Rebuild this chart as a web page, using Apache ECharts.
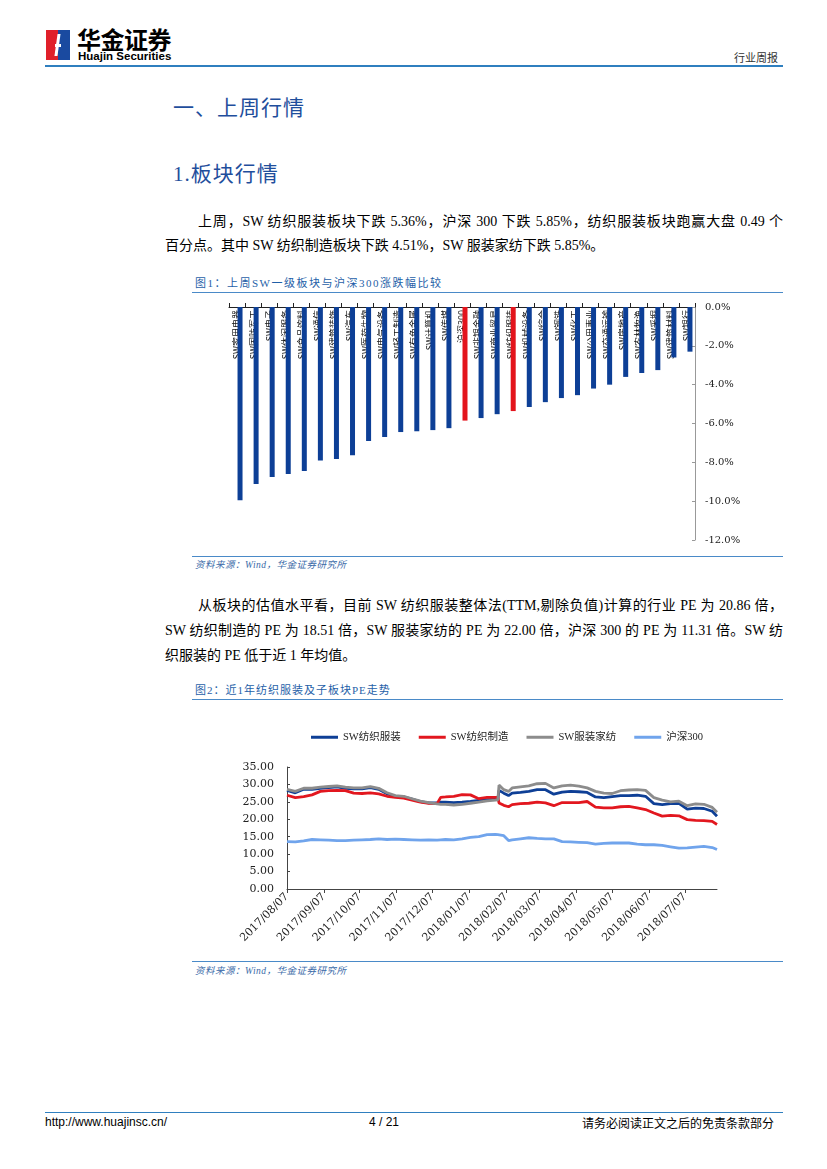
<!DOCTYPE html>
<html>
<head>
<meta charset="utf-8">
<script src="https://cdn.jsdelivr.net/npm/echarts@6/dist/echarts.min.js"></script>
<style>
  html, body { margin: 0; padding: 0; background: #fff; }
  body { width: 827px; height: 1169px; position: relative; overflow: hidden;
         font-family: "Liberation Serif", "Noto Sans CJK SC", serif; color: #000; }
  .abs { position: absolute; white-space: nowrap; }
  .line { position: absolute; height: 0; }
  .para div { height: 24px; line-height: 24px; font-size: 14px; text-align: justify; text-align-last: justify; }
  .para div.last { text-align-last: left; }
  .figtitle { font-size: 11px; color: #1f5fa8; letter-spacing: 1.5px; font-family: "Liberation Serif","Noto Sans CJK SC",serif; }
  .src { font-size: 9.5px; color: #3a6aa8; font-style: italic; letter-spacing: 0.5px; }
  .heading { font-size: 21px; color: #1f4e9c; font-family: "Liberation Serif","Noto Sans CJK SC",serif; letter-spacing: 1px; }
</style>
</head>
<body>
<!-- header logo -->
<div class="abs" style="left:46px;top:30px;width:12px;height:30px;background:#e0202a;"></div>
<div class="abs" style="left:58px;top:30px;width:12px;height:30px;background:#1a4aa0;"></div>
<div class="abs" style="left:56px;top:34px;width:3px;height:22px;background:#fff;transform:skewX(-8deg);"></div>
<div class="abs" style="left:55px;top:44px;width:6px;height:3px;background:#fff;"></div>
<div class="abs" style="left:77px;top:25px;font-size:24px;font-weight:bold;font-family:'Noto Sans CJK SC',sans-serif;letter-spacing:-0.5px;line-height:28px;">华金证券</div>
<div class="abs" style="left:78px;top:50px;font-size:11.5px;font-weight:bold;font-family:'Liberation Sans',Arial,sans-serif;line-height:13px;">Huajin Securities</div>
<div class="abs" style="left:734px;top:50px;font-size:11px;color:#333;font-family:'Noto Sans CJK SC',sans-serif;line-height:14px;">行业周报</div>
<div class="line" style="left:45px;top:65px;width:738px;border-top:2px solid #2f7fbf;"></div>

<div class="abs heading" style="left:173px;top:94px;line-height:28px;">一、上周行情</div>
<div class="abs heading" style="left:173px;top:160px;line-height:28px;">1.板块行情</div>

<div class="abs para" style="left:165px;top:210px;width:618px;">
  <div style="padding-left:33px;">上周，SW 纺织服装板块下跌 5.36%，沪深 300 下跌 5.85%，纺织服装板块跑赢大盘 0.49 个</div>
  <div class="last">百分点。其中 SW 纺织制造板块下跌 4.51%，SW 服装家纺下跌 5.85%。</div>
</div>

<div class="abs figtitle" style="left:195px;top:276px;line-height:14px;">图1：上周SW一级板块与沪深300涨跌幅比较</div>
<div class="line" style="left:192px;top:292px;width:591px;border-top:1px solid #4a8ac8;"></div>
<div id="bar" class="abs" style="left:190px;top:295px;width:593px;height:260px;"></div>
<div class="line" style="left:192px;top:556px;width:591px;border-top:1px solid #4a8ac8;"></div>
<div class="abs src" style="left:195px;top:559px;line-height:13px;">资料来源：Wind，华金证券研究所</div>

<div class="abs para" style="left:165px;top:593px;width:618px;">
  <div style="padding-left:33px;height:25px;line-height:25px;">从板块的估值水平看，目前 SW 纺织服装整体法(TTM,剔除负值)计算的行业 PE 为 20.86 倍，</div>
  <div style="height:25px;line-height:25px;">SW 纺织制造的 PE 为 18.51 倍，SW 服装家纺的 PE 为 22.00 倍，沪深 300 的 PE 为 11.31 倍。SW 纺</div>
  <div class="last" style="height:25px;line-height:25px;">织服装的 PE 低于近 1 年均值。</div>
</div>

<div class="abs figtitle" style="left:195px;top:683px;line-height:14px;letter-spacing:1px;">图2：近1年纺织服装及子板块PE走势</div>
<div class="line" style="left:192px;top:699px;width:591px;border-top:1px solid #4a8ac8;"></div>
<div id="line" class="abs" style="left:190px;top:705px;width:593px;height:255px;"></div>
<div class="line" style="left:192px;top:961px;width:591px;border-top:1px solid #4a8ac8;"></div>
<div class="abs src" style="left:195px;top:965px;line-height:13px;">资料来源：Wind，华金证券研究所</div>

<!-- footer -->
<div class="line" style="left:45px;top:1112px;width:738px;border-top:1px solid #2f7fbf;"></div>
<div class="abs" style="left:45px;top:1115px;font-size:12px;font-family:'Liberation Sans',Arial,sans-serif;line-height:15px;">http://www.huajinsc.cn/</div>
<div class="abs" style="left:369px;top:1115px;font-size:12px;font-family:'Liberation Sans',Arial,sans-serif;line-height:15px;">4 / 21</div>
<div class="abs" style="left:582px;top:1115px;font-size:12px;font-family:'Noto Sans CJK SC',sans-serif;line-height:15px;">请务必阅读正文之后的免责条款部分</div>

<script>
// ---------- Figure 1 data ----------
const barCategories = ['SW家用电器','SW国防军工','SW电子','SW休闲服务','SW食品饮料','SW通信','SW建筑装饰','SW汽车','SW医药生物','SW电气设备','SW轻工制造','SW有色金属','SW计算机','SW传媒','沪深300','SW非银金融','SW商业贸易','SW纺织服装','SW机械设备','SW综合','SW钢铁','SW化工','SW公用事业','SW交通运输','SW房地产','SW农林牧渔','SW采掘','SW建筑材料','SW银行'];
const barValues = [-9.95,-9.12,-8.76,-8.6,-8.45,-7.9,-7.83,-7.63,-6.9,-6.7,-6.44,-6.4,-6.34,-6.24,-5.85,-5.72,-5.52,-5.36,-5.15,-4.9,-4.69,-4.54,-4.2,-4.0,-3.6,-3.4,-3.25,-2.6,-2.3];
const highlightCategories = ['沪深300','SW纺织服装'];

// ---------- Figure 2 data ----------
const peDates = ['2017/08/07','2017/08/14','2017/08/21','2017/08/28','2017/09/04','2017/09/11','2017/09/18','2017/09/25','2017/10/02','2017/10/09','2017/10/16','2017/10/23','2017/10/30','2017/11/06','2017/11/13','2017/11/20','2017/11/27','2017/12/04','2017/12/11','2017/12/14','2017/12/18','2017/12/25','2018/01/01','2018/01/08','2018/01/15','2018/01/22','2018/01/29','2018/01/31','2018/02/01','2018/02/05','2018/02/09','2018/02/12','2018/02/19','2018/02/26','2018/03/05','2018/03/12','2018/03/19','2018/03/26','2018/04/02','2018/04/09','2018/04/16','2018/04/23','2018/04/30','2018/05/07','2018/05/14','2018/05/21','2018/05/28','2018/06/04','2018/06/11','2018/06/18','2018/06/25','2018/07/02','2018/07/09','2018/07/16','2018/07/23','2018/07/30','2018/08/03'];
const peTextile = [28.3,27.6,28.6,28.6,28.9,29.1,29.3,28.9,28.7,28.7,29.1,28.6,27.3,26.6,26.4,25.8,25.1,24.7,24.8,24.9,24.9,24.8,24.9,25.1,25.4,25.6,25.7,25.7,28.3,27.5,26.8,27.5,27.7,28.0,28.5,28.5,27.2,27.8,28.0,27.9,27.7,26.4,26.2,26.5,26.8,26.8,26.9,26.6,24.5,24.2,24.5,24.6,22.9,23.2,23.1,22.3,20.86];
const peManufacture = [26.9,26.2,26.5,27.0,28.0,28.2,28.3,28.2,27.5,27.4,27.6,27.3,26.6,26.3,26.1,25.5,24.9,24.6,24.5,26.3,26.4,26.6,27.1,27.0,25.9,26.3,26.3,26.3,24.7,24.0,23.6,24.2,24.5,24.6,24.9,24.7,23.9,24.8,24.8,24.8,25.1,23.5,23.3,23.3,23.6,23.7,23.3,22.8,21.8,20.9,21.1,21.0,19.9,19.7,19.6,19.4,18.51];
const peApparel = [28.6,28.0,28.9,28.9,29.2,29.4,29.6,29.2,29.0,29.0,29.4,28.9,27.6,26.8,26.6,25.9,25.2,24.8,24.4,24.3,24.3,24.1,24.3,24.6,24.9,25.3,25.5,25.6,29.8,28.5,28.0,29.0,29.3,29.6,30.2,30.3,29.0,29.6,29.8,29.5,29.0,28.0,27.5,27.4,28.2,28.4,28.5,28.3,26.2,25.5,25.0,25.2,23.9,24.4,24.3,23.4,22.00];
const peHS300 = [13.6,13.5,13.8,14.2,14.1,14.0,13.9,13.9,14.0,14.1,14.2,14.4,14.2,14.3,14.2,14.1,14.0,14.1,14.0,14.1,14.2,14.1,14.4,14.8,15.0,15.6,15.7,15.6,15.6,15.3,13.9,14.1,14.4,14.7,14.5,14.4,14.4,13.6,13.5,13.4,13.3,12.9,13.1,13.2,13.2,13.2,12.9,12.7,12.7,12.5,12.1,11.7,11.8,12.0,12.2,11.9,11.31];
const peSeriesNames = ['SW纺织服装','SW纺织制造','SW服装家纺','沪深300'];
const peAxisStart = '2017/08/07';
const peAxisEnd = '2018/08/03';

// ---------- Figure 1 ----------
const BLUE = '#0d3f96', RED = '#e3141c';
const barChart = echarts.init(document.getElementById('bar'));
barChart.setOption({
  animation: false,
  grid: {left: 39, right: 88, top: 12, bottom: 15},
  xAxis: {
    type: 'category', position: 'top', data: barCategories,
    axisLine: {lineStyle: {color: '#222', width: 1}},
    axisTick: {show: true, length: 4, lineStyle: {color: '#222'}},
    axisLabel: {inside: true, rotate: 90, interval: 0, fontSize: 9, color: '#111', margin: 3,
                padding: [0, 0, 8, 0], fontFamily: 'Noto Sans CJK SC'},
    splitLine: {show: false}
  },
  yAxis: {
    type: 'value', position: 'right', min: -12, max: 0, interval: 2,
    axisLine: {show: true, lineStyle: {color: '#999'}},
    axisTick: {show: true, inside: true, length: 3, lineStyle: {color: '#999'}},
    axisLabel: {formatter: v => v.toFixed(1) + '%', fontSize: 10, color: '#222', margin: 10,
                fontFamily: 'DejaVu Serif'},
    splitLine: {show: false}
  },
  series: [
    {type: 'bar', data: barCategories.map(() => '-'), barWidth: 5, barGap: '20%', silent: true},
    {type: 'bar', barWidth: 5, barGap: '20%',
     data: barValues.map((v, i) => ({value: v, itemStyle: {color: highlightCategories.includes(barCategories[i]) ? RED : BLUE}}))}
  ]
});

// ---------- Figure 2 ----------
function fmt(d) {
  const m = String(d.getUTCMonth() + 1).padStart(2, '0');
  const dd = String(d.getUTCDate()).padStart(2, '0');
  return d.getUTCFullYear() + '/' + m + '/' + dd;
}
const axisDays = [];
{
  const s = new Date(peAxisStart.replace(/\//g, '-') + 'T00:00:00Z');
  const e = new Date(peAxisEnd.replace(/\//g, '-') + 'T00:00:00Z');
  for (let t = s.getTime(); t <= e.getTime(); t += 86400000) axisDays.push(fmt(new Date(t)));
}
const showMonthTick = (idx, val) => val.slice(8) === '07';
const lineColors = ['#0e3f96', '#e2171f', '#8c8c8c', '#70a4ec'];
const peValues = [peTextile, peManufacture, peApparel, peHS300];
const lineChart = echarts.init(document.getElementById('line'));
lineChart.setOption({
  animation: false,
  color: lineColors,
  legend: {
    top: 22, left: 116, itemWidth: 27, itemHeight: 3, itemGap: 18, icon: 'rect',
    textStyle: {fontSize: 10.5, color: '#222', fontFamily: 'Liberation Serif, Noto Sans CJK SC'},
    data: peSeriesNames
  },
  grid: {left: 97, right: 66, top: 62, bottom: 71},
  xAxis: {
    type: 'category', data: axisDays, boundaryGap: false,
    axisLine: {lineStyle: {color: '#444'}},
    axisTick: {show: true, interval: showMonthTick, length: 4, lineStyle: {color: '#444'}},
    axisLabel: {interval: showMonthTick, rotate: 45, fontSize: 11, color: '#222', margin: 6,
                fontFamily: 'DejaVu Serif'},
    splitLine: {show: false}
  },
  yAxis: {
    type: 'value', min: 0, max: 35, interval: 5,
    axisLine: {show: true, lineStyle: {color: '#444'}},
    axisTick: {show: true, length: 3, inside: true, lineStyle: {color: '#444'}},
    axisLabel: {formatter: v => v.toFixed(2), fontSize: 11, color: '#222', margin: 13,
                fontFamily: 'DejaVu Serif'},
    splitLine: {show: false}
  },
  series: peSeriesNames.map((name, si) => ({
    name, type: 'line', showSymbol: false, symbol: 'none',
    lineStyle: {width: 2.8, color: lineColors[si]},
    data: peDates.map((d, i) => [d, peValues[si][i]])
  }))
});
</script>
</body>
</html>
